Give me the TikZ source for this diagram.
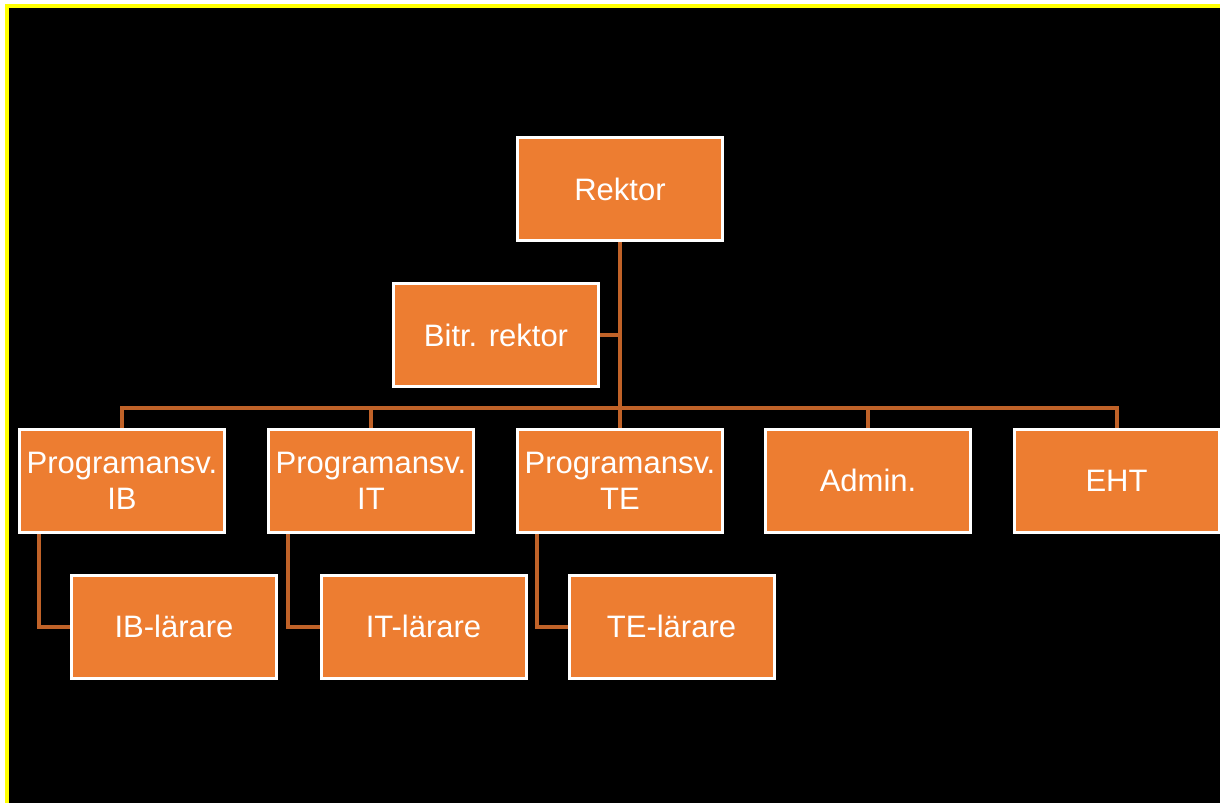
\documentclass[tikz,border=0pt]{standalone}
\usepackage{fontspec}
\setmainfont{Liberation Sans}
\usetikzlibrary{backgrounds}
\definecolor{boxfill}{RGB}{237,125,49}
\definecolor{linec}{RGB}{192,98,40}
\definecolor{frameyellow}{RGB}{255,255,0}
\pgfdeclarelayer{back}
\pgfsetlayers{back,background,main}
\begin{document}
\begin{tikzpicture}[x=1pt,y=-1pt,
  orgbox/.style={draw=white, line width=3pt, fill=boxfill, minimum width=205pt, minimum height=103pt,
    inner sep=0pt, align=center, text=white, font=\fontsize{31}{36}\selectfont},
  conn/.style={draw=linec, line width=4pt, line join=miter}]
\useasboundingbox (0,0) rectangle (1220,803);
\begin{pgfonlayer}{back}
\fill[white] (0,0) rectangle (1220,803);
\fill[frameyellow] (5,4) rectangle (1220,803);
\fill[black] (9,7.5) rectangle (1220,803);
\end{pgfonlayer}

\node[orgbox] (rektor) at (620,189) {Rektor};
\node[orgbox] (bitr) at (496,335) {Bitr. rektor};
\node[orgbox] (ib) at (122,480.5) {Programansv.\\IB};
\node[orgbox] (it) at (371,480.5) {Programansv.\\IT};
\node[orgbox] (te) at (620,480.5) {Programansv.\\TE};
\node[orgbox] (admin) at (868,480.5) {Admin.};
\node[orgbox] (eht) at (1116.5,480.5) {EHT};
\node[orgbox] (ibl) at (174,626.5) {IB-lärare};
\node[orgbox] (itl) at (423.5,626.5) {IT-lärare};
\node[orgbox] (tel) at (671.5,626.5) {TE-lärare};

\coordinate (bus) at (620,408);
\begin{pgfonlayer}{background}
\draw[conn] (rektor.south) -- (bus);
\draw[conn] (bitr.east) -- (bitr.east -| rektor.south);
\draw[conn] ([xshift=-2pt]bus -| ib.north) -- ([xshift=2pt]bus -| eht.north);
\foreach \n in {ib,it,te,admin,eht} \draw[conn] (bus -| \n.north) -- (\n.north);
\draw[conn] ([xshift=21pt]ib.south west) |- (ibl.west);
\draw[conn] ([xshift=21pt]it.south west) |- (itl.west);
\draw[conn] ([xshift=21pt]te.south west) |- (tel.west);
\end{pgfonlayer}
\end{tikzpicture}
\end{document}
